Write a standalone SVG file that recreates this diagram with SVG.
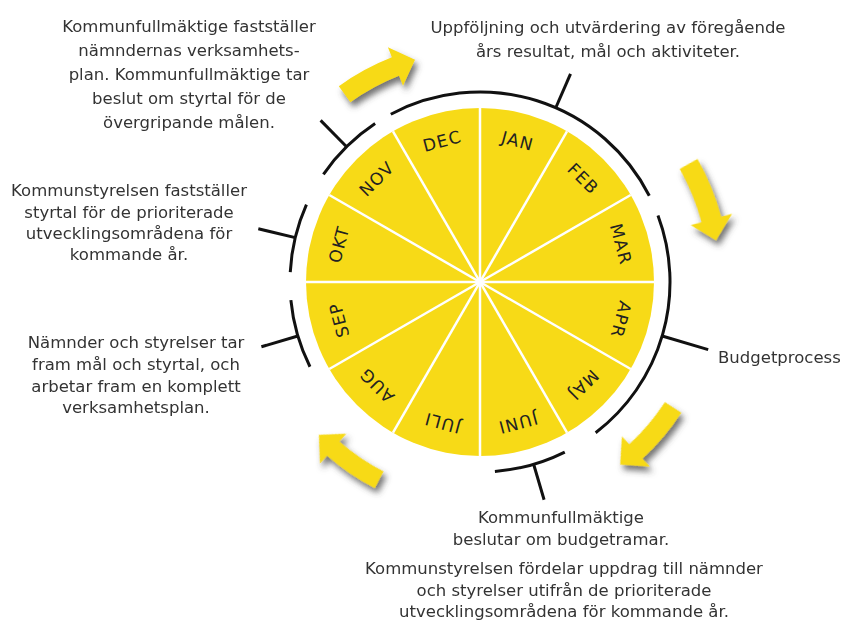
<svg xmlns="http://www.w3.org/2000/svg" xmlns:xlink="http://www.w3.org/1999/xlink" width="850" height="624" viewBox="0 0 850 624">
<style>
  .txt { font-family: "DejaVu Sans", "Liberation Sans", sans-serif; font-size: 16.5px; fill: #333; text-anchor: middle; }
  .mon { font-family: "DejaVu Sans", "Liberation Sans", sans-serif; font-size: 17px; fill: #222; text-anchor: middle; dominant-baseline: central; letter-spacing: 1.3px; }
  .arc { fill: none; stroke: #111; stroke-width: 3; }
  .div { stroke: #fff; stroke-width: 2.5; }
  .arrow { fill: #F7DA17; }
</style>
<defs>
  <filter id="shadow" x="-20%" y="-20%" width="140%" height="140%">
    <feDropShadow dx="3" dy="5" stdDeviation="3" flood-color="#444" flood-opacity="0.75"/>
  </filter>
  <path id="arw" d="M230.95,-81.78 A245,245 0 0 1 244.02,-21.86 L254.98,-22.85 L235,0 L213.15,-19.10 L224.10,-20.08 A225,225 0 0 0 212.09,-75.11 Z"/>
</defs>
<rect width="850" height="624" fill="#fff"/>

<g id="wheel">
  <circle cx="480" cy="282" r="174" fill="#F7DA17"/>
  <g transform="translate(480,282)">
    <line class="div" x1="-174" y1="0" x2="174" y2="0"/>
    <line class="div" x1="-174" y1="0" x2="174" y2="0" transform="rotate(30)"/>
    <line class="div" x1="-174" y1="0" x2="174" y2="0" transform="rotate(60)"/>
    <line class="div" x1="-174" y1="0" x2="174" y2="0" transform="rotate(90)"/>
    <line class="div" x1="-174" y1="0" x2="174" y2="0" transform="rotate(120)"/>
    <line class="div" x1="-174" y1="0" x2="174" y2="0" transform="rotate(150)"/>
    <circle r="4" fill="#fff"/>
  </g>
  <g id="months">
    <text class="mon" transform="translate(480,282) rotate(15) translate(0,-146)">JAN</text>
    <text class="mon" transform="translate(480,282) rotate(45) translate(0,-146)">FEB</text>
    <text class="mon" transform="translate(480,282) rotate(75) translate(0,-146)">MAR</text>
    <text class="mon" transform="translate(480,282) rotate(105) translate(0,-146)">APR</text>
    <text class="mon" transform="translate(480,282) rotate(135) translate(0,-146)">MAJ</text>
    <text class="mon" transform="translate(480,282) rotate(165) translate(0,-146)">JUNI</text>
    <text class="mon" transform="translate(480,282) rotate(195) translate(0,-146)">JULI</text>
    <text class="mon" transform="translate(480,282) rotate(225) translate(0,-146)">AUG</text>
    <text class="mon" transform="translate(480,282) rotate(255) translate(0,-146)">SEP</text>
    <text class="mon" transform="translate(480,282) rotate(285) translate(0,-146)">OKT</text>
    <text class="mon" transform="translate(480,282) rotate(315) translate(0,-146)">NOV</text>
    <text class="mon" transform="translate(480,282) rotate(345) translate(0,-146)">DEC</text>
  </g>
</g>

<g id="arrows" filter="url(#shadow)">
  <use xlink:href="#arw" class="arrow" transform="translate(480,282) rotate(-106.3) scale(0.985)"/>
  <use xlink:href="#arw" class="arrow" transform="translate(480,282) rotate(-10) scale(1.02)"/>
  <use xlink:href="#arw" class="arrow" transform="translate(480,282) rotate(52.5) scale(0.98)"/>
  <use xlink:href="#arw" class="arrow" transform="translate(480,282) rotate(136.5) scale(0.945)"/>
</g>

<g id="connectors">
  <path class="arc" d="M390.80,114.24 A190,190 0 0 1 649.29,195.74"/>
  <line class="arc" x1="555.76" y1="107.76" x2="570.52" y2="73.83"/>
  <path class="arc" d="M657.97,215.46 A190,190 0 0 1 595.66,432.74"/>
  <line class="arc" x1="662.18" y1="335.96" x2="708.2" y2="349.6"/>
  <path class="arc" d="M564.78,452.04 A190,190 0 0 1 494.91,471.41"/>
  <line class="arc" x1="533.64" y1="464.27" x2="544.09" y2="499.76"/>
  <path class="arc" d="M309.96,366.78 A190,190 0 0 1 290.87,300.21"/>
  <line class="arc" x1="297.82" y1="335.96" x2="261.39" y2="346.76"/>
  <path class="arc" d="M290.26,272.06 A190,190 0 0 1 306.43,204.72"/>
  <line class="arc" x1="295.25" y1="237.64" x2="258.30" y2="228.77"/>
  <path class="arc" d="M323.42,174.38 A190,190 0 0 1 375.13,123.56"/>
  <line class="arc" x1="346.59" y1="146.71" x2="320.61" y2="120.37"/>
</g>

<g id="note-nov" class="txt">
  <text x="189" y="32">Kommunfullmäktige fastställer</text>
  <text x="189" y="56">nämndernas verksamhets-</text>
  <text x="189" y="80">plan. Kommunfullmäktige tar</text>
  <text x="189" y="104">beslut om styrtal för de</text>
  <text x="189" y="127.5">övergripande målen.</text>
</g>
<g id="note-jan" class="txt">
  <text x="608" y="32.5">Uppföljning och utvärdering av föregående</text>
  <text x="608" y="56.5">års resultat, mål och aktiviteter.</text>
</g>
<g id="note-okt" class="txt">
  <text x="129" y="196">Kommunstyrelsen fastställer</text>
  <text x="129" y="217.5">styrtal för de prioriterade</text>
  <text x="129" y="239">utvecklingsområdena för</text>
  <text x="129" y="260">kommande år.</text>
</g>
<g id="note-sep" class="txt">
  <text x="136" y="348">Nämnder och styrelser tar</text>
  <text x="136" y="370">fram mål och styrtal, och</text>
  <text x="136" y="391.5">arbetar fram en komplett</text>
  <text x="136" y="413">verksamhetsplan.</text>
</g>
<g id="note-budget" class="txt">
  <text x="718" y="362.5" style="text-anchor:start">Budgetprocess</text>
</g>
<g id="note-juni" class="txt">
  <text x="561" y="523">Kommunfullmäktige</text>
  <text x="561" y="545">beslutar om budgetramar.</text>
  <text x="564" y="574">Kommunstyrelsen fördelar uppdrag till nämnder</text>
  <text x="564" y="596">och styrelser utifrån de prioriterade</text>
  <text x="564" y="617">utvecklingsområdena för kommande år.</text>
</g>
</svg>
